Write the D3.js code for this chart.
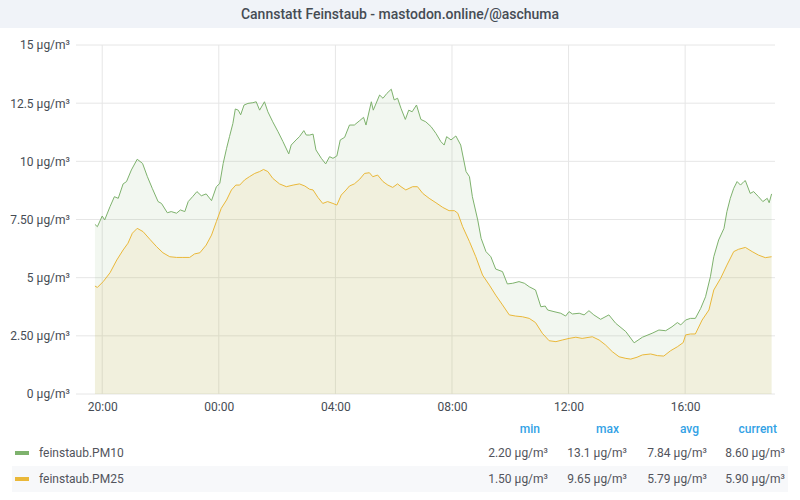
<!DOCTYPE html>
<html>
<head>
<meta charset="utf-8">
<script src="https://cdn.jsdelivr.net/npm/d3@7/dist/d3.min.js"></script>
<style>
  body { margin: 0; background: #fff; font-family: Roboto, "Open Sans", sans-serif; }
  #chart { width: 800px; height: 500px; }
</style>
</head>
<body>
<div id="chart"></div>
<script>
// readings taken off the panel, times are HH:MM (before 19:00 means next day)
var pm10Times = ["19:45","19:50","20:00","20:05","20:16","20:25","20:33","20:43","20:50","21:00",
  "21:12","21:23","21:33","21:43","21:55","22:02","22:14","22:22","22:33","22:41",
  "22:50","22:57","23:06","23:15","23:24","23:34","23:45","23:55","00:02","00:09",
  "00:16","00:22","00:29","00:34","00:40","00:45","00:52","01:00","01:10","01:17",
  "01:24","01:34","01:41","01:51","02:02","02:12","02:24","02:29","02:39","02:46",
  "02:55","03:00","03:07","03:14","03:20","03:31","03:40","03:48","03:55","04:03",
  "04:10","04:19","04:29","04:39","04:50","04:58","05:03","05:14","05:18","05:31",
  "05:38","05:46","05:55","06:01","06:08","06:15","06:24","06:31","06:38","06:47",
  "06:56","07:06","07:17","07:27","07:37","07:44","07:49","07:58","08:08","08:18",
  "08:29","08:36","08:42","08:53","09:00","09:10","09:20","09:30","09:44","09:54",
  "10:05","10:18","10:29","10:39","10:52","11:03","11:12","11:17","11:30","11:44",
  "11:54","12:01","12:08","12:22","12:32","12:42","12:52","13:06","13:23","13:37",
  "13:58","14:15","14:32","14:52","15:06","15:20","15:33","15:44","15:51","16:01",
  "16:11","16:21","16:32","16:42","16:52","16:59","17:09","17:20","17:26","17:33",
  "17:40","17:47","17:54","18:01","18:04","18:14","18:21","18:31","18:40","18:49",
  "18:53","18:58"];
var pm10 = [7.29,7.19,7.65,7.48,8.05,8.48,8.41,9.03,9.13,9.63,
  10.09,9.91,9.34,8.84,8.27,8.19,7.79,7.84,7.77,7.91,
  7.84,8.27,8.48,8.70,8.52,8.60,8.31,8.91,9.05,9.91,
  10.56,11.06,11.63,12.25,12.20,12.00,12.42,12.49,12.52,12.56,
  12.20,12.56,12.13,11.70,11.27,10.85,10.32,10.70,10.92,11.06,
  11.32,11.13,11.13,11.17,10.49,10.13,9.89,10.20,10.13,10.23,
  10.92,11.03,11.56,11.56,11.75,11.89,11.56,12.56,12.20,12.85,
  12.71,12.92,13.10,12.64,12.71,12.28,11.80,12.20,12.13,12.42,
  11.80,11.70,11.49,11.20,10.85,10.70,11.06,10.92,11.09,10.70,
  9.56,9.34,8.48,7.48,6.69,6.12,5.90,5.37,5.26,4.73,
  4.76,4.83,4.76,4.61,4.47,3.75,3.78,3.61,3.54,3.47,
  3.35,3.54,3.44,3.47,3.40,3.58,3.40,3.21,3.40,3.04,
  2.68,2.20,2.44,2.61,2.75,2.72,2.89,3.07,2.97,3.18,
  3.25,3.25,3.68,4.18,5.04,5.90,6.62,7.12,7.84,8.41,
  8.84,9.13,8.98,9.13,9.17,8.62,8.70,8.48,8.27,8.41,
  8.22,8.60];

var pm25Times = ["19:45","19:50","20:02","20:16","20:30","20:43","20:53","21:02","21:12","21:24",
  "21:38","21:52","22:05","22:19","22:33","22:46","23:00","23:10","23:21","23:34",
  "23:45","23:55","00:05","00:16","00:26","00:35","00:43","00:53","01:03","01:14",
  "01:24","01:32","01:41","01:51","02:05","02:19","02:33","02:46","02:57","03:07",
  "03:14","03:24","03:34","03:44","03:55","04:03","04:12","04:22","04:29","04:39",
  "04:50","05:00","05:10","05:17","05:27","05:38","05:48","05:58","06:08","06:15",
  "06:25","06:39","06:49","07:00","07:13","07:27","07:41","07:54","08:05","08:12",
  "08:22","08:36","08:49","09:03","09:17","09:30","09:44","09:58","10:11","10:25",
  "10:39","10:52","11:06","11:20","11:34","11:47","12:01","12:15","12:28","12:49",
  "13:03","13:16","13:30","13:44","13:58","14:08","14:21","14:32","14:49","15:03",
  "15:16","15:30","15:44","15:56","16:01","16:11","16:21","16:35","16:49","16:59",
  "17:13","17:26","17:40","17:50","18:04","18:18","18:31","18:45","18:58"];
var pm25 = [4.64,4.58,4.83,5.21,5.76,6.19,6.48,6.91,7.12,6.98,
  6.65,6.33,6.07,5.90,5.87,5.87,5.87,6.02,6.07,6.40,
  6.83,7.41,7.98,8.34,8.77,8.98,8.98,9.20,9.34,9.48,
  9.56,9.65,9.56,9.27,9.03,8.91,8.98,9.03,8.94,8.80,
  8.77,8.45,8.19,8.27,8.19,8.12,8.55,8.77,8.94,9.03,
  9.23,9.48,9.51,9.34,9.41,9.13,8.98,8.88,9.03,8.91,
  8.77,8.91,8.91,8.62,8.41,8.22,8.02,7.88,7.88,7.77,
  7.19,6.55,5.90,5.11,4.68,4.25,3.83,3.40,3.35,3.32,
  3.25,3.07,2.61,2.29,2.25,2.32,2.39,2.44,2.39,2.46,
  2.32,2.11,1.82,1.60,1.53,1.50,1.58,1.68,1.72,1.65,
  1.63,1.86,2.03,2.21,2.54,2.58,2.58,3.18,3.61,4.47,
  4.97,5.54,6.12,6.22,6.30,6.12,5.97,5.86,5.90];

var yTicks = [0, 2.5, 5, 7.5, 10, 12.5, 15];
var yTickLabels = ["0 µg/m³", "2.50 µg/m³", "5 µg/m³", "7.50 µg/m³", "10 µg/m³", "12.5 µg/m³", "15 µg/m³"];
var xTickTimes = ["20:00", "00:00", "04:00", "08:00", "12:00", "16:00"];

var seriesNames = ["feinstaub.PM10", "feinstaub.PM25"];
var seriesColors = ["#7eb26d", "#eab839"];
var statHeaders = ["min", "max", "avg", "current"];
var statValues = [
  ["2.20 µg/m³", "13.1 µg/m³", "7.84 µg/m³", "8.60 µg/m³"],
  ["1.50 µg/m³", "9.65 µg/m³", "5.79 µg/m³", "5.90 µg/m³"]
];

var title = "Cannstatt Feinstaub - mastodon.online/@aschuma";

// turn "HH:MM" into a date on the right day
var day1 = new Date(2020, 0, 1);
function toDate(s) {
  var p = s.split(":");
  var h = +p[0], m = +p[1];
  var d = new Date(day1);
  if (h < 19) d.setDate(d.getDate() + 1);
  d.setHours(h, m, 0, 0);
  return d;
}

var W = 800, H = 500;
var margin = { top: 45, left: 76, right: 25, bottom: 106 };

var svg = d3.select("#chart").append("svg")
  .attr("width", W)
  .attr("height", H)
  .style("font-family", "Roboto, sans-serif");

// title bar
svg.append("rect")
  .attr("x", 0).attr("y", 0)
  .attr("width", W).attr("height", 28)
  .attr("fill", "#f0f3f8");
svg.append("text")
  .attr("x", W / 2).attr("y", 19)
  .attr("text-anchor", "middle")
  .attr("font-size", 14)
  .attr("font-weight", 500)
  .attr("fill", "#464c54")
  .text(title);

// last 24h window
var x = d3.scaleTime()
  .domain([new Date(2020, 0, 1, 19, 6), new Date(2020, 0, 2, 19, 5)])
  .range([margin.left, W - margin.right]);

var y = d3.scaleLinear()
  .domain([0, 15])
  .range([H - margin.bottom, margin.top]);

// grid
var gy = svg.append("g").attr("class", "grid-y");
gy.selectAll("line")
  .data(yTicks)
  .enter()
  .append("line")
  .attr("x1", margin.left)
  .attr("x2", W - margin.right)
  .attr("y1", function(d) { return y(d); })
  .attr("y2", function(d) { return y(d); })
  .attr("stroke", "#e6e6e6")
  .attr("stroke-width", 1);

var xTicks = xTickTimes.map(toDate);
var gx = svg.append("g").attr("class", "grid-x");
gx.selectAll("line")
  .data(xTicks)
  .enter()
  .append("line")
  .attr("x1", function(d) { return x(d); })
  .attr("x2", function(d) { return x(d); })
  .attr("y1", y(15))
  .attr("y2", y(0))
  .attr("stroke", "#e6e6e6")
  .attr("stroke-width", 1);

// series
var series = [
  { name: seriesNames[0], color: seriesColors[0],
    data: pm10Times.map(function(t, i) { return { t: toDate(t), v: pm10[i] }; }) },
  { name: seriesNames[1], color: seriesColors[1],
    data: pm25Times.map(function(t, i) { return { t: toDate(t), v: pm25[i] }; }) }
];

var area = d3.area()
  .x(function(d) { return x(d.t); })
  .y0(y(0))
  .y1(function(d) { return y(d.v); });

var line = d3.line()
  .x(function(d) { return x(d.t); })
  .y(function(d) { return y(d.v); });

series.forEach(function(s) {
  svg.append("path")
    .datum(s.data)
    .attr("d", area)
    .attr("fill", s.color)
    .attr("fill-opacity", 0.1);
});
series.forEach(function(s) {
  svg.append("path")
    .datum(s.data)
    .attr("d", line)
    .attr("fill", "none")
    .attr("stroke", s.color)
    .attr("stroke-width", 1);
});

// axes
var yAxis = d3.axisLeft(y)
  .tickValues(yTicks)
  .tickFormat(function(d, i) { return yTickLabels[i]; })
  .tickSize(0)
  .tickPadding(6);
var ya = svg.append("g")
  .attr("transform", "translate(" + margin.left + ",0)")
  .call(yAxis);
ya.select(".domain").remove();
ya.selectAll("text")
  .attr("font-family", "Roboto, sans-serif")
  .attr("font-size", 12)
  .attr("fill", "#464c54");

var xAxis = d3.axisBottom(x)
  .tickValues(xTicks)
  .tickFormat(d3.timeFormat("%H:%M"))
  .tickSize(0)
  .tickPadding(8);
var xa = svg.append("g")
  .attr("transform", "translate(0," + y(0) + ")")
  .call(xAxis);
xa.select(".domain").remove();
xa.selectAll("text")
  .attr("font-family", "Roboto, sans-serif")
  .attr("font-size", 12)
  .attr("fill", "#464c54");

// legend
var statRight = [548, 627, 707, 785];
var legend = svg.append("g").attr("class", "legend");

legend.selectAll("text.head")
  .data(statHeaders)
  .enter()
  .append("text")
  .attr("class", "head")
  .attr("x", function(d, i) { return statRight[i] - 8; })
  .attr("y", 433)
  .attr("text-anchor", "end")
  .attr("font-size", 12)
  .attr("font-weight", 500)
  .attr("fill", "#33a2e5")
  .text(function(d) { return d; });

var rowY = [453, 479];
series.forEach(function(s, r) {
  if (r === 1) {
    legend.append("rect")
      .attr("x", 12).attr("y", rowY[r] - 13)
      .attr("width", 776).attr("height", 26)
      .attr("fill", "#f7f8fa");
  }
  legend.append("rect")
    .attr("x", 15).attr("y", rowY[r] - 2)
    .attr("width", 14).attr("height", 4)
    .attr("fill", s.color);
  legend.append("text")
    .attr("x", 39).attr("y", rowY[r] + 4)
    .attr("font-size", 12)
    .attr("fill", "#52545c")
    .text(s.name);
  legend.selectAll("text.val-" + r)
    .data(statValues[r])
    .enter()
    .append("text")
    .attr("class", "val-" + r)
    .attr("x", function(d, i) { return statRight[i]; })
    .attr("y", rowY[r] + 4)
    .attr("text-anchor", "end")
    .attr("font-size", 12)
    .attr("fill", "#52545c")
    .text(function(d) { return d; });
});
</script>
</body>
</html>
